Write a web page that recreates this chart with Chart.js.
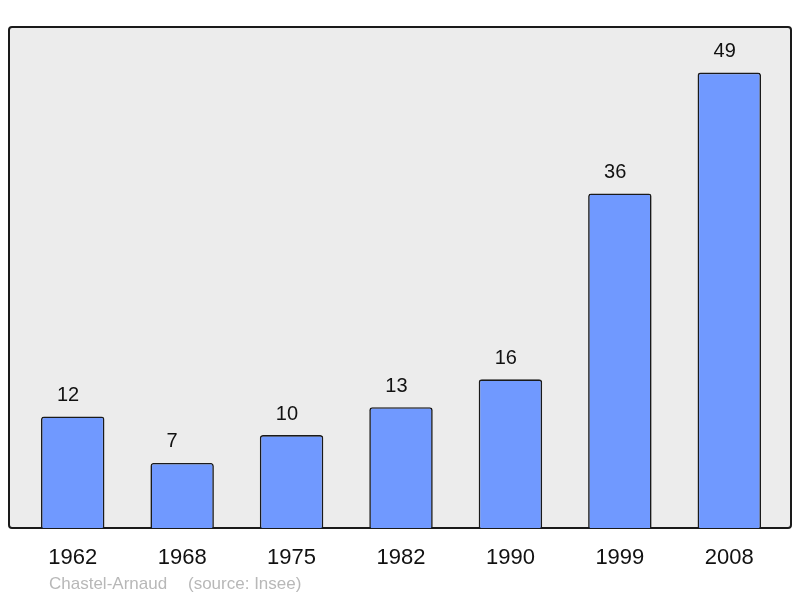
<!DOCTYPE html>
<html>
<head>
<meta charset="utf-8">
<script src="https://cdn.jsdelivr.net/npm/chart.js@4"></script>
<style>
  html, body { margin: 0; padding: 0; background: #fff; }
  #wrap { width: 800px; height: 598px; }
</style>
</head>
<body>
<div id="wrap"><canvas id="popChart" width="800" height="598"></canvas></div>
<script>
const years = ["1962", "1968", "1975", "1982", "1990", "1999", "2008"];
const population = [12, 7, 10, 13, 16, 36, 49];
const townName = "Chastel-Arnaud";
const sourceNote = "(source: Insee)";

// grey panel behind the bars, a bit wider than the category area
const panelPlugin = {
    id: "panel",
    beforeDraw(chart) {
        const ctx = chart.ctx;
        const a = chart.chartArea;
        const x = a.left - 9, y = a.top, w = a.right - a.left + 16, h = a.bottom - a.top;
        ctx.save();
        ctx.beginPath();
        ctx.roundRect(x, y, w, h, 3);
        ctx.fillStyle = "#ececec";
        ctx.fill();
        ctx.lineWidth = 2;
        ctx.strokeStyle = "#1a1a1a";
        ctx.stroke();
        ctx.restore();
    },
    afterDraw(chart) {
        const ctx = chart.ctx;
        ctx.save();
        ctx.font = "17px 'Liberation Sans', Arial, sans-serif";
        ctx.fillStyle = "#b8b8b8";
        ctx.textBaseline = "middle";
        ctx.fillText(townName, 49, 584);
        ctx.fillText(sourceNote, 188, 584);
        ctx.restore();
    }
};

// value above each bar (text starts a little in from the bar's left edge)
const valueLabels = {
    id: "valueLabels",
    afterDatasetsDraw(chart) {
        const ctx = chart.ctx;
        const meta = chart.getDatasetMeta(0);
        ctx.save();
        ctx.font = "20px 'Liberation Sans', Arial, sans-serif";
        ctx.fillStyle = "#111";
        ctx.textAlign = "left";
        ctx.textBaseline = "middle";
        meta.data.forEach((bar, i) => {
            ctx.fillText(String(population[i]), bar.x - bar.width / 2 + 16, bar.y - 21);
        });
        ctx.restore();
    }
};

new Chart(document.getElementById("popChart"), {
    type: "bar",
    data: {
        labels: years,
        datasets: [{
            data: population,
            backgroundColor: "#7099ff",
            borderColor: "#1a1a1a",
            borderWidth: 1.6,
            borderRadius: { topLeft: 3, topRight: 3, bottomLeft: 0, bottomRight: 0 },
            borderSkipped: "bottom",
            categoryPercentage: 0.58,
            barPercentage: 1.0
        }]
    },
    options: {
        responsive: false,
        animation: false,
        layout: { padding: { left: 18, right: 16, top: 27, bottom: 0 } },
        plugins: {
            legend: { display: false },
            tooltip: { enabled: false }
        },
        scales: {
            x: {
                grid: { display: false, drawTicks: false },
                border: { display: false },
                ticks: {
                    color: "#111",
                    padding: 17,
                    font: { size: 22, family: "'Liberation Sans', Arial, sans-serif" }
                },
                afterFit(scale) { scale.height = 70; }
            },
            y: {
                display: false,
                min: 0,
                max: 53.9
            }
        }
    },
    plugins: [panelPlugin, valueLabels]
});
</script>
</body>
</html>
